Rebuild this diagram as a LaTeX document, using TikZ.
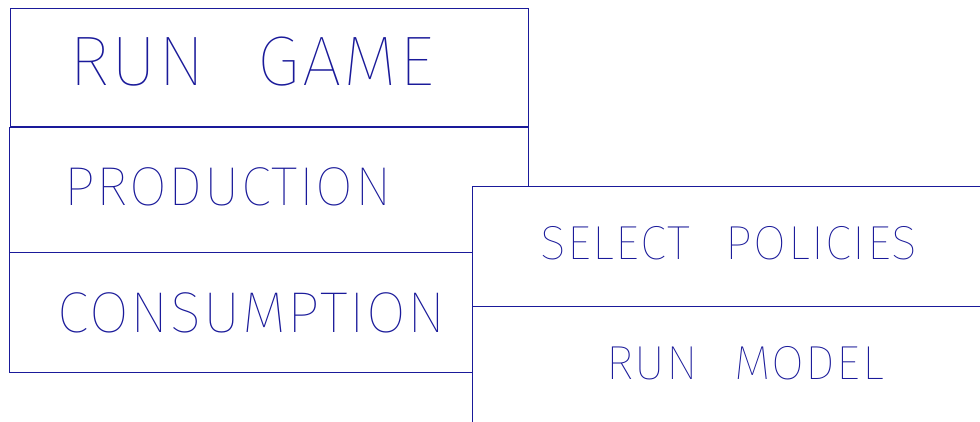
\documentclass[tikz,border=0pt]{standalone}
\usepackage{fontspec}
\newfontfamily\cadfont{Fira Sans}[UprightFont={* Thin},WordSpace=2.3,LetterSpace=3]
\definecolor{PlotBlue}{HTML}{1A1A9A}

\begin{document}
\begin{tikzpicture}[x=0.025cm,y=-0.025cm]
    \tikzset{panel/.style={draw=PlotBlue,line width=0.6pt,fill=white},
      paneltext/.style={text=PlotBlue,inner sep=0pt,font=\cadfont\fontsize{#1}{#1}\selectfont}}
    \useasboundingbox (0,0) rectangle (980,421);
    \clip (0,0) rectangle (980,421);
    % left column
    \draw[panel] (10,8) rectangle (528,126);
    \draw[panel] (9,127) rectangle (528,252);
    \draw[panel] (9,252) rectangle (528,372);
    % right column, laid over the left one
    \draw[panel] (472,186) rectangle (1000,306);
    \draw[panel] (472,306) rectangle (1000,450);
    \node[paneltext=50] (rungame) at (252,62) {RUN GAME};
    \node[paneltext=39] (production) at (228,187) {PRODUCTION};
    \node[paneltext=41] (consumption) at (252,313) {CONSUMPTION};
    \node[paneltext=34] (policies) at (729,243) {SELECT POLICIES};
    \node[paneltext=34] (runmodel) at (745,363) {RUN MODEL};
  \end{tikzpicture}
\end{document}
